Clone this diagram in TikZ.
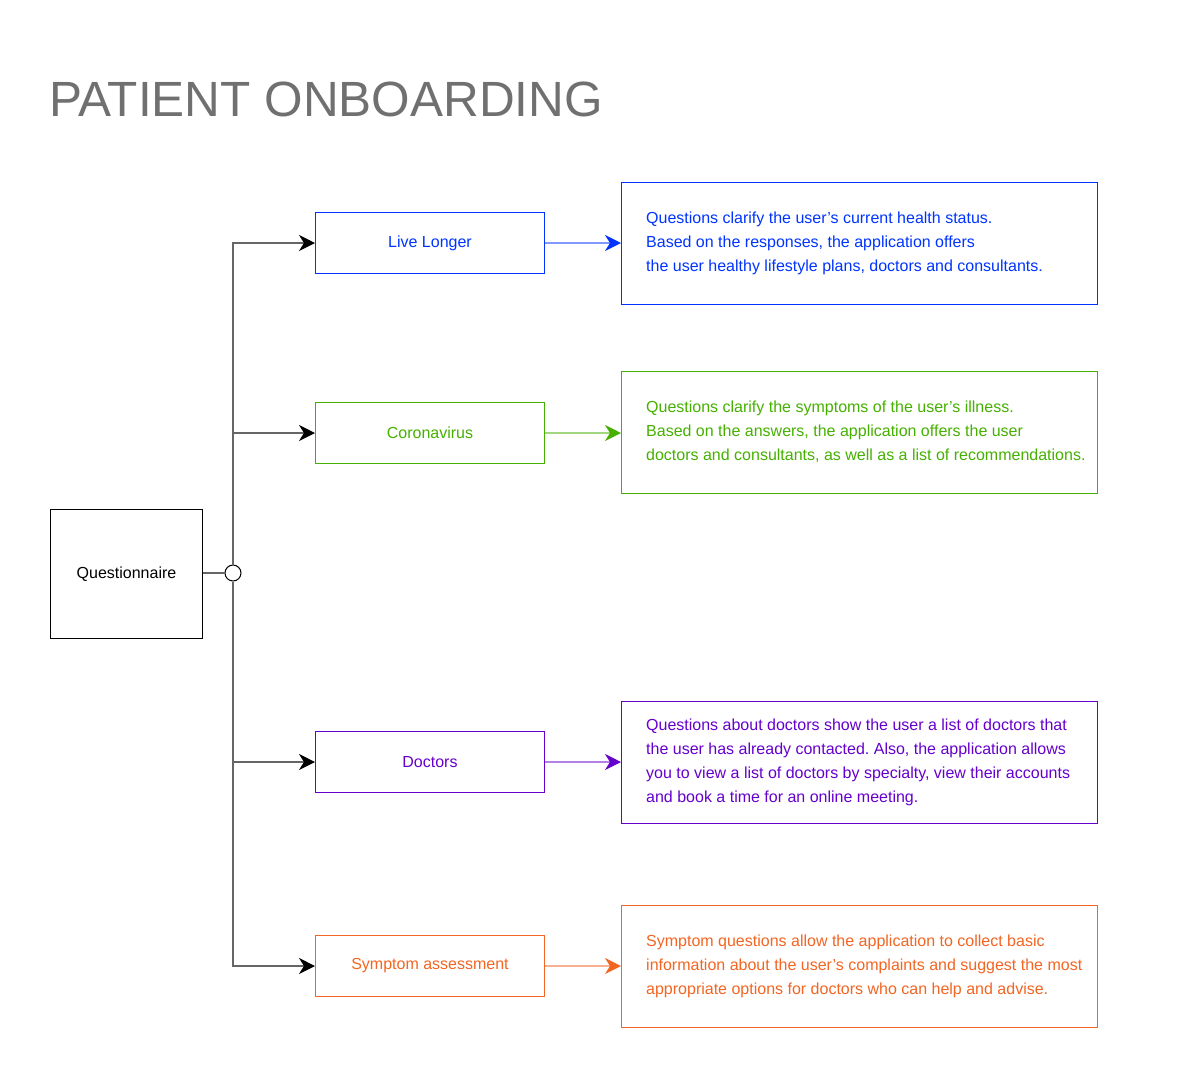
\documentclass[tikz,border=0pt]{standalone}
\usepackage{fontspec}
\setmainfont{Liberation Sans}
\usetikzlibrary{arrows.meta}
\definecolor{cblue}{HTML}{0033FF}
\definecolor{cgreen}{HTML}{45B000}
\definecolor{cpurple}{HTML}{6600CC}
\definecolor{corange}{HTML}{F26522}
\definecolor{ctitle}{HTML}{707070}
\frenchspacing
\begin{document}
\begin{tikzpicture}[x=1pt,y=-1pt,
  every node/.style={font=\fontsize{16}{24}\selectfont},
  lbox/.style={draw, line width=1pt, rectangle, inner sep=0pt, anchor=north west, minimum width=229pt, minimum height=61pt},
  rbox/.style={draw, line width=1pt, rectangle, inner sep=0pt, anchor=north west, minimum width=476pt, minimum height=122pt},
  rtext/.style={anchor=west, align=left, inner sep=0pt},
  feed/.style={draw=black!60, line width=1.2pt, -{Stealth[length=16pt,width=16pt,inset=5pt,color=black]}},
  cout/.style={line width=1.6pt}
]
\useasboundingbox (0,0) rectangle (1187,1080);
\node[anchor=base west, inner sep=0pt, text=ctitle, font=\fontsize{49.5}{58}\selectfont] (title) at (49,116) {PATIENT ONBOARDING};

\node[draw, line width=1pt, rectangle, inner sep=0pt, anchor=north west, minimum width=152pt, minimum height=129pt] (q) at (50,509) {Questionnaire};
\node[circle, draw, line width=1pt, fill=white, minimum size=16pt, inner sep=0pt] (c) at (233,573) {};

\node[lbox, draw=cblue, text=cblue] (ll) at (315,212) {Live Longer};
\node[lbox, draw=cgreen, text=cgreen] (cv) at (315,402) {Coronavirus};
\node[lbox, draw=cpurple, text=cpurple] (dc) at (315,731) {Doctors};
\node[lbox, draw=corange, text=corange] (sa) at (315,935) {Symptom assessment};

\node[rbox, draw=cblue] (llb) at (621,182) {};
\node[rbox, draw=cgreen] (cvb) at (621,371) {};
\node[rbox, draw=cpurple] (dcb) at (621,701) {};
\node[rbox, draw=corange] (sab) at (621,905) {};

\node[rtext, text=cblue] (llt) at (646,243) {Questions clarify the user’s current health status.\\Based on the responses, the application offers\\the user healthy lifestyle plans, doctors and consultants.};
\node[rtext, text=cgreen] (cvt) at (646,432) {Questions clarify the symptoms of the user’s illness.\\Based on the answers, the application offers the user\\doctors and consultants, as well as a list of recommendations.};
\node[rtext, text=cpurple] (dct) at (646,762) {Questions about doctors show the user a list of doctors that\\the user has already contacted. Also, the application allows\\you to view a list of doctors by specialty, view their accounts\\and book a time for an online meeting.};
\node[rtext, text=corange] (sat) at (646,966) {Symptom questions allow the application to collect basic\\information about the user’s complaints and suggest the most\\appropriate options for doctors who can help and advise.};

\draw[draw=black!60, line width=1.2pt] (c.west) -- (c.west -| q.east);
\draw[feed] (c.north) |- (ll.west);
\draw[feed] (c.north) |- (cv.west);
\draw[feed] (c.south) |- (dc.west);
\draw[feed] (c.south) |- (sa.west);

\draw[cout, draw=cblue!50, -{Stealth[length=16pt,width=16pt,inset=5pt,color=cblue]}] (ll.east) -- (ll.east -| llb.west);
\draw[cout, draw=cgreen!50, -{Stealth[length=16pt,width=16pt,inset=5pt,color=cgreen]}] (cv.east) -- (cv.east -| cvb.west);
\draw[cout, draw=cpurple!50, -{Stealth[length=16pt,width=16pt,inset=5pt,color=cpurple]}] (dc.east) -- (dc.east -| dcb.west);
\draw[cout, draw=corange!50, -{Stealth[length=16pt,width=16pt,inset=5pt,color=corange]}] (sa.east) -- (sa.east -| sab.west);
\end{tikzpicture}
\end{document}
